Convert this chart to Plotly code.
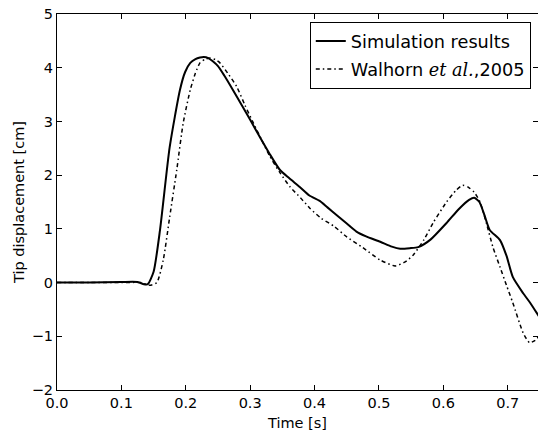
import plotly.graph_objects as go

# Simulation results (solid)
sim_t = [0.0, 0.05, 0.10, 0.125, 0.135, 0.141, 0.150, 0.160, 0.175, 0.191, 0.199, 0.207, 0.215, 0.222, 0.228,
         0.235, 0.242, 0.250, 0.260, 0.273, 0.287, 0.300, 0.315, 0.330, 0.346, 0.360, 0.377, 0.392, 0.408,
         0.420, 0.435, 0.450, 0.465, 0.480, 0.502, 0.520, 0.533, 0.548, 0.561, 0.580, 0.605, 0.625,
         0.640, 0.648, 0.656, 0.664, 0.672, 0.688, 0.698, 0.708, 0.724, 0.735, 0.750]
sim_y = [0.0, 0.0, 0.01, 0.01, -0.03, -0.03, 0.2, 0.98, 2.52, 3.59, 3.92, 4.09, 4.16, 4.19, 4.2,
         4.18, 4.12, 4.03, 3.85, 3.59, 3.3, 3.03, 2.71, 2.4, 2.1, 1.95, 1.78, 1.62, 1.52,
         1.4, 1.25, 1.1, 0.95, 0.86, 0.76, 0.67, 0.63, 0.64, 0.66, 0.8, 1.11, 1.38,
         1.54, 1.58, 1.5, 1.25, 0.98, 0.79, 0.5, 0.1, -0.2, -0.38, -0.66]

# Walhorn et al., 2005 (dash-dot)
wal_t = [0.0, 0.05, 0.10, 0.130, 0.144, 0.155, 0.165, 0.175, 0.186, 0.196, 0.207, 0.215, 0.222, 0.230, 0.238,
         0.246, 0.253, 0.265, 0.279, 0.292, 0.305, 0.318, 0.331, 0.346, 0.362, 0.378, 0.393, 0.410,
         0.430, 0.450, 0.475, 0.502, 0.525, 0.540, 0.553, 0.570, 0.584, 0.605, 0.620, 0.630, 0.638,
         0.648, 0.657, 0.667, 0.677, 0.688, 0.698, 0.708, 0.724, 0.734, 0.742, 0.750]
wal_y = [0.0, 0.0, 0.0, 0.0, -0.05, 0.0, 0.42, 1.22, 2.1, 2.97, 3.59, 3.9, 4.09, 4.16, 4.18,
         4.15, 4.09, 3.9, 3.65, 3.3, 2.97, 2.65, 2.34, 2.05, 1.78, 1.58, 1.38, 1.2,
         1.05, 0.85, 0.65, 0.42, 0.31, 0.38, 0.51, 0.8, 1.11, 1.5, 1.72, 1.81, 1.78,
         1.68, 1.5, 1.1, 0.66, 0.29, -0.05, -0.38, -0.94, -1.12, -1.08, -0.98]

x_ticks = [0.0, 0.1, 0.2, 0.3, 0.4, 0.5, 0.6, 0.7]
y_ticks = [-2, -1, 0, 1, 2, 3, 4, 5]

font = "DejaVu Sans, sans-serif"

fig = go.Figure()
fig.add_trace(go.Scatter(x=sim_t, y=sim_y, mode="lines", name="Simulation results",
                         legendgroup="a", cliponaxis=True,
                         line=dict(color="black", width=2, shape="spline", smoothing=0.6)))
fig.add_trace(go.Scatter(x=wal_t, y=wal_y, mode="lines",
                         name="Walhorn <span style='font-family:DejaVu Serif'><i>et al.</i></span>,2005",
                         legendgroup="b", cliponaxis=True,
                         line=dict(color="black", width=1.5, dash="4px,3px,1.5px,3px",
                                   shape="spline", smoothing=0.6)))

axis_common = dict(showline=True, linecolor="black", linewidth=1, mirror="allticks",
                   ticks="inside", ticklen=5, tickcolor="black", showgrid=False, zeroline=False,
                   tickfont=dict(family=font, size=14.5, color="black"))

fig.update_layout(
    width=538, height=435,
    margin=dict(l=57, r=0, t=14, b=45),
    paper_bgcolor="white", plot_bgcolor="white",
    font=dict(family=font, size=14.5, color="black"),
    showlegend=True,
    legend=dict(x=0.985, y=0.979, xanchor="right", yanchor="top",
                bordercolor="black", borderwidth=1, bgcolor="white",
                font=dict(family=font, size=17.7, color="black"),
                itemwidth=30, tracegroupgap=2),
    xaxis=dict(range=[0, 0.747], tickvals=x_ticks, tickformat=".1f",
               title=dict(text="Time [s]", font=dict(family=font, size=14.5), standoff=7),
               **axis_common),
    yaxis=dict(range=[-2, 5], tickvals=y_ticks,
               title=dict(text="Tip displacement [cm]", font=dict(family=font, size=14.5), standoff=3),
               **axis_common),
)

# Remove the default 8px page margin so the figure sits at the window's origin.
fig.write_html("out.html", config={"displayModeBar": False},
               post_script="document.body.style.margin='0';")
